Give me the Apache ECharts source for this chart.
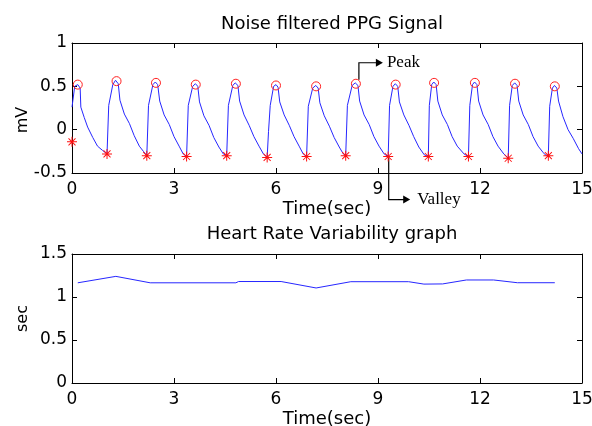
<!DOCTYPE html>
<html>
<head>
<meta charset="utf-8">
<script src="https://cdn.jsdelivr.net/npm/echarts@6/dist/echarts.min.js"></script>
<style>
html, body { margin: 0; padding: 0; background: #fff; }
#chart { width: 592px; height: 426px; }
</style>
</head>
<body>
<div id="chart"></div>
<script>
// filtered PPG signal
const ppgTime = [0, 0.08, 0.17, 0.24, 0.26, 0.36, 0.46, 0.61, 0.75, 0.9,
  1.03, 1.08, 1.2, 1.28, 1.36, 1.41, 1.54, 1.69, 1.83, 1.98, 2.1,
  2.2, 2.25, 2.38, 2.45, 2.52, 2.58, 2.71, 2.86, 3.0, 3.15, 3.27,
  3.37, 3.42, 3.55, 3.63, 3.7, 3.75, 3.88, 4.03, 4.17, 4.32, 4.45,
  4.55, 4.6, 4.73, 4.8, 4.88, 4.93, 5.06, 5.21, 5.35, 5.5, 5.63,
  5.74, 5.78, 5.83, 5.93, 6.0, 6.06, 6.11, 6.24, 6.39, 6.53, 6.68, 6.8,
  6.9, 6.95, 7.08, 7.17, 7.24, 7.29, 7.42, 7.57, 7.71, 7.86, 7.98,
  8.05, 8.1, 8.24, 8.33, 8.41, 8.46, 8.59, 8.74, 8.88, 9.03, 9.18,
  9.3, 9.34, 9.44, 9.51, 9.58, 9.63, 9.76, 9.91, 10.05, 10.2, 10.36,
  10.48, 10.51, 10.58, 10.64, 10.71, 10.76, 10.89, 11.04, 11.18, 11.33, 11.53,
  11.66, 11.7, 11.78, 11.84, 11.91, 11.96, 12.09, 12.24, 12.38, 12.53, 12.7,
  12.83, 12.87, 12.95, 13.02, 13.09, 13.14, 13.27, 13.42, 13.56, 13.71, 13.85, 13.92,
  14.01, 14.05, 14.13, 14.19, 14.26, 14.31, 14.44, 14.59, 14.74, 14.9, 15.0];
const ppgMv = [0.26, 0.50, 0.52, 0.48, 0.26, 0.14, 0.03, -0.09, -0.19, -0.24,
  -0.28, 0.28, 0.52, 0.57, 0.53, 0.34, 0.18, 0.07, -0.07, -0.19, -0.25,
  -0.30, 0.28, 0.52, 0.55, 0.52, 0.33, 0.17, 0.06, -0.08, -0.19, -0.28,
  -0.31, 0.28, 0.50, 0.53, 0.50, 0.32, 0.16, 0.05, -0.09, -0.20, -0.28,
  -0.30, 0.28, 0.51, 0.54, 0.51, 0.33, 0.17, 0.05, -0.08, -0.19, -0.28,
  -0.32, -0.02, 0.28, 0.50, 0.52, 0.49, 0.32, 0.17, 0.05, -0.08, -0.19, -0.28,
  -0.31, 0.27, 0.48, 0.51, 0.48, 0.31, 0.16, 0.04, -0.09, -0.20, -0.28,
  -0.30, 0.28, 0.51, 0.54, 0.51, 0.33, 0.17, 0.06, -0.08, -0.19, -0.28,
  -0.31, 0.28, 0.50, 0.53, 0.50, 0.32, 0.17, 0.05, -0.08, -0.20, -0.29,
  -0.31, 0.28, 0.52, 0.55, 0.52, 0.33, 0.17, 0.06, -0.08, -0.19, -0.28,
  -0.31, 0.28, 0.52, 0.55, 0.52, 0.33, 0.17, 0.06, -0.08, -0.19, -0.28,
  -0.33, 0.28, 0.51, 0.54, 0.51, 0.33, 0.17, 0.06, -0.08, -0.19, -0.26, -0.29,
  -0.30, 0.27, 0.48, 0.51, 0.48, 0.33, 0.15, 0.00, -0.10, -0.22, -0.28];

const peakTime = [0.17, 1.31, 2.47, 3.64, 4.82, 6.0, 7.18, 8.35, 9.52, 10.65, 11.85, 13.03, 14.2];
const peakMv = [0.52, 0.56, 0.54, 0.52, 0.53, 0.51, 0.50, 0.53, 0.52, 0.54, 0.54, 0.53, 0.50];
const valleyTime = [0, 1.03, 2.2, 3.37, 4.55, 5.74, 6.9, 8.05, 9.3, 10.48, 11.66, 12.83, 14.01];
const valleyMv = [-0.14, -0.28, -0.30, -0.31, -0.30, -0.32, -0.31, -0.30, -0.31, -0.31, -0.31, -0.33, -0.30];

// heart rate variability
const hrvTime = [0.17, 1.29, 2.3, 4.82, 4.9, 6.15, 7.18, 8.2, 9.9, 10.35, 10.9, 11.6, 12.4, 13.1, 14.2];
const hrvSec = [1.165, 1.24, 1.165, 1.165, 1.18, 1.18, 1.105, 1.178, 1.178, 1.15, 1.152, 1.198, 1.198, 1.166, 1.166];

const zip = (a, b) => a.map((v, i) => [v, b[i]]);

const font = 'DejaVu Sans';
// matlab-like '*' marker
const starPath = 'path://M-0.6,-6L0.6,-6L0.6,-0.6L6,-0.6L6,0.6L0.6,0.6L0.6,6L-0.6,6L-0.6,0.6L-6,0.6L-6,-0.6L-0.6,-0.6Z' +
  'M-3.8,-4.6L4.6,3.8L3.8,4.6L-4.6,-3.8Z M3.8,-4.6L4.6,-3.8L-3.8,4.6L-4.6,3.8Z';

function xAx(grid, pos, name) {
  return {
    gridIndex: grid, type: 'value', position: pos, min: 0, max: 15, interval: 3,
    axisLine: { show: true, onZero: false, lineStyle: { color: '#000', width: 1 } },
    axisTick: { show: true, inside: true, length: 5, lineStyle: { color: '#000' } },
    axisLabel: { show: pos === 'bottom', color: '#000', fontSize: 17, fontFamily: font, margin: 8 },
    splitLine: { show: false },
    name: name, nameLocation: 'middle', nameGap: 27,
    nameTextStyle: { color: '#000', fontSize: 18, fontFamily: font }
  };
}
function yAx(grid, pos, min, max, name, pad) {
  return {
    gridIndex: grid, type: 'value', position: pos, min: min, max: max, interval: 0.5,
    axisLine: { show: true, onZero: false, lineStyle: { color: '#000', width: 1 } },
    axisTick: { show: true, inside: true, length: 5, lineStyle: { color: '#000' } },
    axisLabel: { show: pos === 'left', color: '#000', fontSize: 17, fontFamily: font, margin: 5 },
    splitLine: { show: false },
    name: name, nameLocation: 'middle', nameGap: 41, nameRotate: 90, nameMoveOverlap: false,
    nameTextStyle: { color: '#000', fontSize: 16, fontFamily: font, padding: pad || 0 }
  };
}

const chart = echarts.init(document.getElementById('chart'));
chart.setOption({
  backgroundColor: '#fff',
  animation: false,
  title: [
    { text: 'Noise filtered PPG Signal', left: 327, top: 10, textAlign: 'center',
      textStyle: { color: '#000', fontSize: 18, fontWeight: 'normal', fontFamily: font } },
    { text: 'Heart Rate Variability graph', left: 327, top: 220, textAlign: 'center',
      textStyle: { color: '#000', fontSize: 18, fontWeight: 'normal', fontFamily: font } }
  ],
  grid: [
    { left: 72, right: 10, top: 43, height: 130, outerBoundsMode: 'none' },
    { left: 72, right: 10, top: 254, height: 129, outerBoundsMode: 'none' }
  ],
  xAxis: [xAx(0, 'bottom', 'Time(sec)'), xAx(0, 'top', ''), xAx(1, 'bottom', 'Time(sec)'), xAx(1, 'top', '')],
  yAxis: [yAx(0, 'left', -0.5, 1, 'mV', [0, 24, 0, 0]), yAx(0, 'right', -0.5, 1, ''),
          yAx(1, 'left', 0, 1.5, 'sec'), yAx(1, 'right', 0, 1.5, '')],
  series: [
    { type: 'line', xAxisIndex: 0, yAxisIndex: 0, data: zip(ppgTime, ppgMv), showSymbol: false,
      lineStyle: { color: '#2626ff', width: 1 }, z: 2 },
    { type: 'scatter', xAxisIndex: 0, yAxisIndex: 0, data: zip(peakTime, peakMv), symbol: 'circle',
      symbolSize: 9, clip: false, itemStyle: { color: 'rgba(0,0,0,0)', borderColor: '#ff2020', borderWidth: 1, opacity: 1 }, z: 3 },
    { type: 'scatter', xAxisIndex: 0, yAxisIndex: 0, data: zip(valleyTime, valleyMv), symbol: starPath,
      symbolSize: 10, clip: false, itemStyle: { color: '#ff1010', opacity: 1 }, z: 3 },
    { type: 'line', xAxisIndex: 2, yAxisIndex: 2, data: zip(hrvTime, hrvSec), showSymbol: false,
      lineStyle: { color: '#2626ff', width: 1 } }
  ]
});

// Peak / Valley callouts anchored on the marked points
const pk = chart.convertToPixel({ seriesIndex: 1 }, [peakTime[7], peakMv[7]]);
const vl = chart.convertToPixel({ seriesIndex: 2 }, [valleyTime[8], valleyMv[8]]);
const arrowStyle = { stroke: '#000', lineWidth: 1.2, fill: null };
chart.setOption({
  graphic: [
    { type: 'polyline', shape: { points: [[pk[0] + 3, pk[1] - 4], [pk[0] + 3, pk[1] - 21], [pk[0] + 21, pk[1] - 21]] }, style: arrowStyle },
    { type: 'polygon', shape: { points: [[pk[0] + 20, pk[1] - 25], [pk[0] + 27, pk[1] - 21], [pk[0] + 20, pk[1] - 17]] }, style: { fill: '#000' } },
    { type: 'text', x: pk[0] + 31, y: pk[1] - 21, style: { text: 'Peak', fill: '#000', font: '17px "Liberation Serif"', verticalAlign: 'middle' } },
    { type: 'polyline', shape: { points: [[vl[0] + 0.5, vl[1] + 1], [vl[0] + 0.5, vl[1] + 43], [vl[0] + 16, vl[1] + 43]] }, style: arrowStyle },
    { type: 'polygon', shape: { points: [[vl[0] + 15, vl[1] + 39], [vl[0] + 22, vl[1] + 43], [vl[0] + 15, vl[1] + 47]] }, style: { fill: '#000' } },
    { type: 'text', x: vl[0] + 29, y: vl[1] + 43, style: { text: 'Valley', fill: '#000', font: '17px "Liberation Serif"', verticalAlign: 'middle' } }
  ]
});
</script>
</body>
</html>
